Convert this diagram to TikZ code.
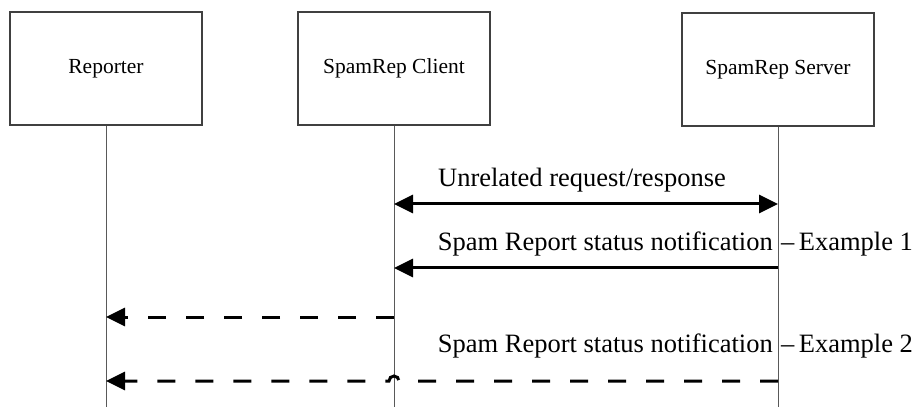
\documentclass[tikz,border=0pt]{standalone}
\usepackage{fontspec}
\setmainfont{Liberation Serif}
\usetikzlibrary{arrows.meta}

\begin{document}
\begin{tikzpicture}[x=1pt,y=1pt,
    actor/.style={draw=black!75,line width=1.1pt,minimum width=192pt,minimum height=113pt,inner sep=0pt,font=\fontsize{21.5}{26}\selectfont},
    life/.style={draw=black!65,line width=1pt},
    msg/.style={line width=3pt,-{Triangle[length=19pt,width=18pt]}},
    dmsg/.style={msg,dash pattern=on 18pt off 20pt},
    lbl/.style={inner sep=0pt,font=\fontsize{26.5}{32}\selectfont}]
    \useasboundingbox (0,0) rectangle (917,407);
    \node[actor] (rep) at (106,338.5) {Reporter};
    \node[actor] (cli) at (394,338.5) {SpamRep Client};
    \node[actor] (srv) at (778,337.5) {SpamRep Server};
    % lifelines
    \coordinate (rep0) at (106,0);
    \coordinate (cli0) at (394,0);
    \coordinate (srv0) at (778,0);
    \path[life] (rep.south) -- (rep0);
    \path[life] (cli.south) -- (cli0);
    \path[life] (srv.south) -- (srv0);
    % message ends
    \coordinate (cli1) at (394,203);
    \coordinate (srv1) at (778,203);
    \coordinate (cli2) at (394,139);
    \coordinate (srv2) at (778,139);
    \coordinate (rep3) at (106,90);
    \coordinate (cli3) at (394,90);
    \coordinate (rep4) at (106,26);
    \coordinate (cli4) at (394,26);
    \coordinate (srv4) at (778,26);
    \draw[msg,{Triangle[length=19pt,width=18pt]}-{Triangle[length=19pt,width=18pt]}] (cli1) -- (srv1);
    \draw[msg] (srv2) -- (cli2);
    \draw[dmsg] (cli3) -- (rep3);
    \draw[dmsg] (srv4) -- ([xshift=5pt]cli4) arc[start angle=0,end angle=180,radius=5pt] -- (rep4);
    % labels
    \node[lbl,anchor=base] (req) at (582,220) {Unrelated request/response};
    \node[lbl,anchor=base east] (note1) at (773,157) {Spam Report status notification};
    \node[lbl,anchor=base west] (ex1) at (781,157) {--\,Example 1};
    \node[lbl,anchor=base east] (note2) at (773,55) {Spam Report status notification};
    \node[lbl,anchor=base west] (ex2) at (781,55) {--\,Example 2};
\end{tikzpicture}
\end{document}
